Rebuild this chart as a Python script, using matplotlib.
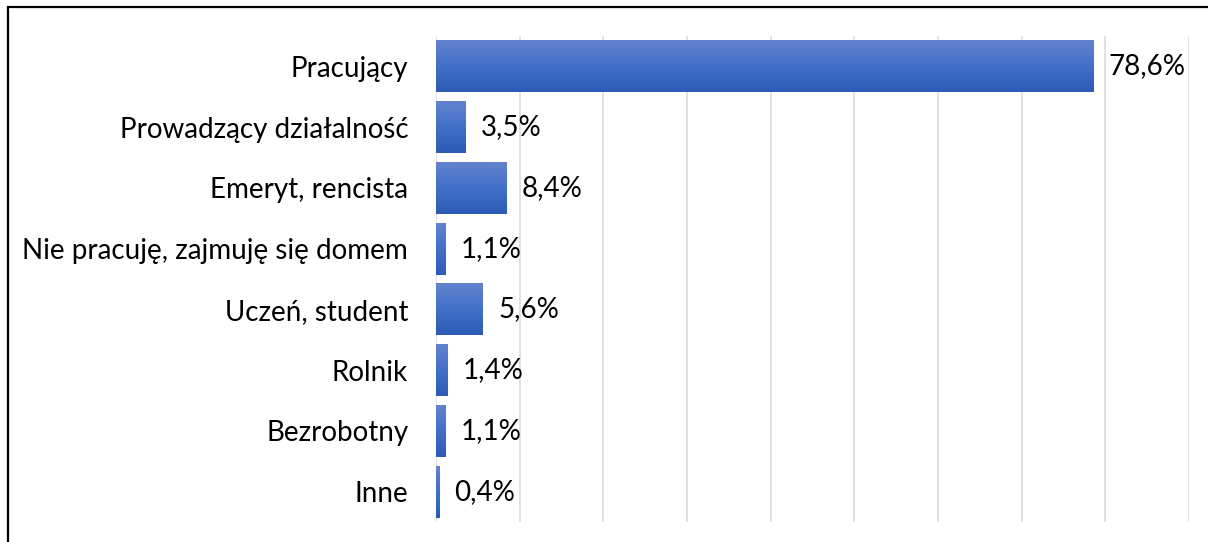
import numpy as np
import matplotlib
matplotlib.use("Agg")
import matplotlib.pyplot as plt
from matplotlib.colors import LinearSegmentedColormap

categories = [
    "Pracujący",
    "Prowadzący działalność",
    "Emeryt, rencista",
    "Nie pracuję, zajmuję się domem",
    "Uczeń, student",
    "Rolnik",
    "Bezrobotny",
    "Inne",
]
shares = [78.6, 3.5, 8.4, 1.1, 5.6, 1.4, 1.1, 0.4]
grid_ticks = list(range(0, 100, 10))

plt.rcParams["font.family"] = ["Lato", "DejaVu Sans"]

W, H = 1208, 542
fig = plt.figure(figsize=(W / 100, H / 100), dpi=100)
fig.patch.set_facecolor("white")

# caption above the chart frame (runs off the top of the canvas)
fig.text(10 / W, 1 + 4.5 / H, "Wykres 1. Struktura ankietowanych wg statusu zawodowego",
         color="#3A62B0", fontsize=18, style="italic", ha="left", va="baseline")

# chart frame
frame = plt.Rectangle((8 / W, -0.1), 1.2, 1 - 7 / H + 0.1, transform=fig.transFigure,
                      fill=False, edgecolor="black", linewidth=1.6)
fig.add_artist(frame)

ax = fig.add_axes([436 / W, 20 / H, (1189 - 436) / W, (522 - 36) / H])

cmap = LinearSegmentedColormap.from_list("bar", [(100 / 255, 131 / 255, 206 / 255),
                                                 (65 / 255, 112 / 255, 200 / 255),
                                                 (44 / 255, 91 / 255, 183 / 255)])
grad = np.linspace(0, 1, 256).reshape(-1, 1)

ypos = np.arange(len(categories))
bar_h = 0.855
bars = ax.barh(ypos, shares, height=bar_h, color="none", edgecolor="none", zorder=3)
for rect, y in zip(bars, ypos):
    v = rect.get_width()
    im = ax.imshow(grad, cmap=cmap, aspect="auto", interpolation="bilinear",
                   extent=[0, v, y + bar_h / 2, y - bar_h / 2], zorder=3)
    im.set_clip_path(rect)

ax.set_xlim(0, 90)
ax.set_ylim(len(categories) - 0.5, -0.5)

for y, v in zip(ypos, shares):
    ax.annotate(f"{v:.1f}%".replace(".", ","), xy=(v, y), xytext=(11, 0),
                textcoords="offset points", ha="left", va="center",
                fontsize=20, color="black", zorder=4)

ax.set_yticks(ypos)
ax.set_yticklabels(categories, fontsize=20)
ax.set_xticks(grid_ticks)
ax.set_xticklabels([])
ax.tick_params(axis="both", length=0)
ax.tick_params(axis="y", pad=20)
ax.grid(axis="x", color="#D9DEE8", linewidth=1.3, zorder=0)
ax.set_axisbelow(True)
for s in ax.spines.values():
    s.set_visible(False)
ax.set_facecolor("white")

fig.savefig("out.png", dpi=100)
